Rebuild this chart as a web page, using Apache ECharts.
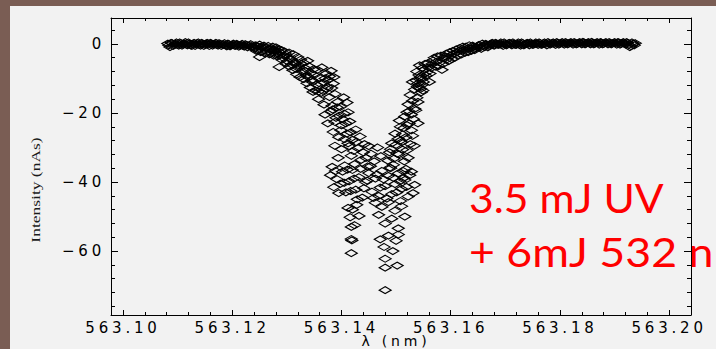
<!DOCTYPE html>
<html>
<head>
<meta charset="utf-8">
<script src="https://cdn.jsdelivr.net/npm/echarts@6/dist/echarts.min.js"></script>
<style>
  html, body { margin: 0; padding: 0; overflow: hidden; background: #f2f2f2; }
  #chart { width: 716px; height: 349px; }
  /* wide, airy lettering for the axis numbers */
  #chart text[style*="DejaVu"], #chart text[font-family*="DejaVu"] { letter-spacing: 3.8px; }
</style>
</head>
<body>
<div id="chart"></div>
<script>
// Wavelength (nm) / intensity (nAs) pairs of the absorption scan
const plateauLeft = [
  [563.1082, 0.1], [563.1086, -0.9], [563.1090, 0.2], [563.1094, -0.3], [563.1098, 0.4],
  [563.1102, -0.5], [563.1106, 0.2], [563.1110, -0.2], [563.1114, 0.5], [563.1118, -0.4],
  [563.1122, 0.1], [563.1126, -0.6], [563.1130, 0.3], [563.1134, -0.2], [563.1138, 0.4],
  [563.1142, -0.5], [563.1146, 0.0], [563.1150, -0.3], [563.1154, 0.3], [563.1158, -0.6],
  [563.1162, 0.1], [563.1166, -0.2], [563.1170, 0.3], [563.1174, -0.5], [563.1178, 0.0],
  [563.1182, -0.3], [563.1186, 0.2], [563.1190, -0.7], [563.1194, -0.1], [563.1198, -0.4],
  [563.1202, 0.1], [563.1206, -0.6], [563.1210, -0.2], [563.1214, -0.5], [563.1218, 0.0],
  [563.1222, -0.8], [563.1226, -0.3], [563.1230, -0.6], [563.1234, -0.1], [563.1238, -0.9],
  [563.1242, -0.4], [563.1246, -0.7], [563.1250, -0.2], [563.1254, -1.0], [563.1258, -0.5],
  [563.1262, -1.2], [563.1266, -0.6], [563.1270, -1.4], [563.1274, -0.8], [563.1278, -1.7],
  [563.1244, -2.0], [563.1252, -2.4], [563.1260, -2.8], [563.1268, -3.0], [563.1276, -3.4],
  [563.1250, -3.8], [563.1286, -6.7]
];

const plateauLeftB = [
  [563.1084, -0.4], [563.1088, 0.3], [563.1092, -0.6], [563.1096, 0.0], [563.1100, -0.3],
  [563.1104, 0.4], [563.1108, -0.5], [563.1112, 0.1], [563.1116, -0.2], [563.1120, 0.4],
  [563.1124, -0.4], [563.1128, 0.0], [563.1132, -0.6], [563.1136, 0.2], [563.1140, -0.3],
  [563.1144, 0.3], [563.1148, -0.6], [563.1152, 0.1], [563.1156, -0.2], [563.1160, 0.3],
  [563.1164, -0.5], [563.1168, 0.0], [563.1172, -0.3], [563.1176, 0.2], [563.1180, -0.6],
  [563.1184, -0.1], [563.1188, -0.4], [563.1192, 0.1], [563.1196, -0.7], [563.1200, -0.2],
  [563.1204, -0.5], [563.1208, 0.0], [563.1212, -0.8], [563.1216, -0.3], [563.1220, -0.6],
  [563.1224, -0.1], [563.1228, -1.0], [563.1232, -0.4], [563.1236, -0.7], [563.1240, -1.3],
  [563.1244, -0.5], [563.1248, -1.6], [563.1252, -0.9], [563.1256, -1.9], [563.1260, -1.1],
  [563.1264, -2.2], [563.1268, -1.5], [563.1272, -2.6], [563.1276, -1.8], [563.1280, -2.9]
];

const shoulderLeft = [
  [563.1280, -1.0], [563.1282, -2.6], [563.1285, -1.5], [563.1288, -3.2], [563.1290, -1.8],
  [563.1293, -4.0], [563.1296, -2.2], [563.1298, -3.0], [563.1301, -5.0], [563.1304, -2.5],
  [563.1306, -4.2], [563.1309, -6.0], [563.1312, -3.0], [563.1314, -5.3], [563.1317, -7.2],
  [563.1320, -3.8], [563.1322, -6.2], [563.1325, -4.6], [563.1328, -8.0], [563.1330, -5.4],
  [563.1333, -7.0], [563.1336, -9.2], [563.1338, -4.9], [563.1341, -6.5], [563.1344, -8.4],
  [563.1346, -10.5], [563.1349, -7.3], [563.1348, -13.9], [563.1356, -7.5], [563.1360, -9.8],
  [563.1364, -6.8], [563.1368, -11.2], [563.1372, -8.6], [563.1376, -10.4], [563.1381, -7.8],
  [563.1385, -11.5]
];

const shoulderLeftB = [
  [563.1283, -3.6], [563.1287, -2.4], [563.1291, -4.6], [563.1295, -3.4], [563.1299, -5.6],
  [563.1302, -3.9], [563.1305, -6.6], [563.1308, -4.5], [563.1311, -7.6], [563.1315, -5.8],
  [563.1318, -8.8], [563.1321, -6.9], [563.1324, -9.6], [563.1327, -5.8], [563.1331, -10.2],
  [563.1334, -7.9], [563.1337, -11.4], [563.1340, -9.6], [563.1343, -12.6], [563.1347, -11.0],
  [563.1350, -9.0], [563.1354, -11.8], [563.1358, -13.8], [563.1362, -11.6], [563.1366, -13.6],
  [563.1370, -10.0], [563.1374, -12.4], [563.1378, -9.4], [563.1382, -12.8], [563.1386, -9.6]
];

// descending wing, upper band (-13 … -18)
const bandUpper = [
  [563.1352, -13.5], [563.1358, -16.0], [563.1363, -14.2], [563.1368, -17.6], [563.1373, -13.0],
  [563.1378, -15.4], [563.1383, -17.9], [563.1388, -14.5], [563.1393, -16.8], [563.1398, -18.2],
  [563.1404, -15.5], [563.1410, -17.0],
  [563.1522, -17.5], [563.1526, -14.8], [563.1530, -16.5], [563.1534, -13.2], [563.1538, -15.6],
  [563.1542, -12.8], [563.1546, -14.0]
];

// both wings, -19 … -28
const bandMiddle = [
  [563.1370, -20.5], [563.1375, -23.0], [563.1380, -19.6], [563.1385, -25.5], [563.1390, -21.4],
  [563.1395, -27.0], [563.1400, -23.6], [563.1405, -20.2], [563.1410, -26.0], [563.1415, -22.5],
  [563.1420, -27.8], [563.1426, -24.8],
  [563.1504, -27.5], [563.1508, -24.0], [563.1512, -26.2], [563.1516, -21.0], [563.1520, -23.5],
  [563.1524, -19.5], [563.1528, -25.0], [563.1532, -21.8], [563.1536, -19.2], [563.1540, -23.0]
];

// -28 … -36
const bandLower = [
  [563.1388, -29.5], [563.1394, -33.0], [563.1400, -30.5], [563.1406, -35.2], [563.1412, -28.8],
  [563.1418, -32.4], [563.1424, -34.8], [563.1430, -30.2], [563.1436, -33.6], [563.1442, -29.0],
  [563.1448, -35.5], [563.1454, -31.8], [563.1460, -34.0], [563.1466, -30.0], [563.1472, -32.5],
  [563.1485, -33.8], [563.1490, -30.5], [563.1495, -35.0], [563.1500, -29.2], [563.1505, -32.0],
  [563.1510, -28.5], [563.1515, -34.0], [563.1520, -30.8], [563.1526, -29.0]
];

// extra readings along both wings
const wingsExtra = [
  [563.1384, -19.0], [563.1388, -22.6], [563.1392, -18.4], [563.1396, -20.8], [563.1399, -25.0],
  [563.1402, -21.8], [563.1406, -27.6], [563.1408, -23.0], [563.1412, -19.8], [563.1414, -29.6],
  [563.1417, -25.6], [563.1422, -31.0], [563.1427, -28.4], [563.1434, -26.8], [563.1440, -31.4],
  [563.1445, -33.0], [563.1450, -29.6],
  [563.1530, -11.0], [563.1534, -18.8], [563.1537, -10.6], [563.1540, -16.8], [563.1544, -9.6],
  [563.1548, -11.8], [563.1551, -8.8], [563.1528, -20.5], [563.1524, -23.0], [563.1520, -19.8],
  [563.1518, -27.0], [563.1514, -24.4], [563.1512, -30.6], [563.1508, -28.0], [563.1506, -22.2],
  [563.1502, -31.8], [563.1498, -26.0], [563.1496, -33.2], [563.1492, -28.8], [563.1490, -36.0],
  [563.1488, -31.4], [563.1518, -36.2], [563.1522, -33.0], [563.1514, -38.8], [563.1530, -26.6],
  [563.1533, -29.5]
];

// line core, -36 … -45
const bandCore = [
  [563.1380, -38.0], [563.1386, -41.5], [563.1392, -39.2], [563.1398, -40.5], [563.1402, -37.0],
  [563.1408, -43.0], [563.1414, -39.8], [563.1420, -36.5], [563.1426, -42.2], [563.1432, -38.6],
  [563.1438, -44.5], [563.1444, -40.0], [563.1450, -37.4], [563.1456, -42.8], [563.1462, -39.0],
  [563.1468, -44.0], [563.1474, -36.8], [563.1480, -41.2], [563.1486, -38.2], [563.1492, -43.5],
  [563.1498, -40.6], [563.1504, -37.5], [563.1510, -42.0], [563.1516, -39.4], [563.1522, -44.2],
  [563.1528, -37.0], [563.1534, -40.8],
  [563.1383, -35.6], [563.1389, -36.8], [563.1395, -43.2], [563.1405, -40.2], [563.1411, -36.4],
  [563.1417, -42.6], [563.1423, -39.0], [563.1429, -45.0], [563.1435, -36.2], [563.1441, -41.8],
  [563.1447, -39.6], [563.1453, -35.4], [563.1459, -44.6], [563.1465, -37.8], [563.1471, -41.6],
  [563.1477, -39.2], [563.1483, -44.8], [563.1489, -35.8], [563.1495, -38.8], [563.1501, -43.0],
  [563.1507, -39.8], [563.1513, -36.8], [563.1519, -41.4], [563.1525, -38.0], [563.1531, -43.2]
];

// deepest readings
const bandDeep = [
  [563.1412, -47.5], [563.1416, -50.2], [563.1420, -48.0], [563.1424, -52.5], [563.1428, -46.6],
  [563.1432, -49.8], [563.1418, -53.0],
  [563.1462, -46.0], [563.1468, -49.5], [563.1474, -47.2], [563.1480, -52.0], [563.1486, -45.8],
  [563.1492, -50.6], [563.1498, -48.3], [563.1504, -53.4], [563.1510, -47.0], [563.1516, -50.0],
  [563.1508, -45.5],
  [563.1418, -56.5], [563.1419, -56.9], [563.1418, -60.6], [563.1471, -56.6], [563.1478, -58.8],
  [563.1486, -55.5], [563.1494, -60.0], [563.1500, -57.0], [563.1504, -55.2],
  [563.1480, -62.2], [563.1480, -64.8], [563.1502, -64.2], [563.1480, -71.3]
];

const shoulderRight = [
  [563.1538, -8.0], [563.1540, -11.5], [563.1543, -6.2], [563.1546, -10.0], [563.1549, -13.5],
  [563.1552, -7.4], [563.1555, -9.2], [563.1558, -5.6], [563.1561, -11.0], [563.1564, -7.0],
  [563.1568, -4.8], [563.1572, -6.6], [563.1576, -3.6], [563.1580, -5.4], [563.1584, -7.5],
  [563.1588, -4.2], [563.1592, -2.8], [563.1596, -5.0], [563.1600, -3.4], [563.1604, -2.0],
  [563.1608, -4.0], [563.1612, -2.4], [563.1616, -1.2], [563.1620, -3.0], [563.1624, -1.8],
  [563.1628, -0.8], [563.1632, -2.4], [563.1636, -1.3], [563.1640, -0.5], [563.1644, -1.8],
  [563.1648, -0.9], [563.1652, -0.3], [563.1656, -1.4], [563.1660, -0.6], [563.1664, 0.0],
  [563.1668, -1.0]
];

const shoulderRightB = [
  [563.1539, -12.4], [563.1542, -9.0], [563.1545, -13.0], [563.1548, -7.0], [563.1550, -11.0],
  [563.1553, -5.8], [563.1556, -8.2], [563.1559, -6.8], [563.1562, -8.6], [563.1566, -5.8],
  [563.1570, -4.0], [563.1574, -5.2], [563.1578, -6.4], [563.1582, -3.4], [563.1586, -5.8],
  [563.1590, -3.6], [563.1594, -4.4], [563.1598, -2.4], [563.1602, -4.4], [563.1606, -2.8],
  [563.1610, -1.6], [563.1614, -3.2], [563.1618, -1.8], [563.1622, -0.8], [563.1626, -2.6],
  [563.1630, -1.4], [563.1634, -0.4], [563.1638, -2.0], [563.1642, -0.8], [563.1646, -1.3],
  [563.1650, -0.5], [563.1654, -1.0], [563.1658, 0.1], [563.1662, -0.9], [563.1666, -0.2],
  [563.1670, -0.6]
];

const plateauRight = [
  [563.1672, -0.2], [563.1676, 0.3], [563.1680, -0.5], [563.1684, 0.1], [563.1688, -0.3],
  [563.1692, 0.4], [563.1696, -0.6], [563.1700, 0.0], [563.1704, -0.2], [563.1708, 0.3],
  [563.1712, -0.4], [563.1716, 0.1], [563.1720, -0.3], [563.1724, 0.4], [563.1728, -0.5],
  [563.1732, 0.2], [563.1736, -0.1], [563.1740, 0.3], [563.1744, -0.4], [563.1748, 0.1],
  [563.1752, -0.2], [563.1756, 0.4], [563.1760, -0.3], [563.1764, 0.2], [563.1768, -0.1],
  [563.1772, 0.4], [563.1776, -0.4], [563.1780, 0.2], [563.1784, 0.0], [563.1788, 0.4],
  [563.1792, -0.3], [563.1796, 0.3], [563.1800, 0.0], [563.1804, 0.5], [563.1808, -0.2],
  [563.1812, 0.3], [563.1816, 0.1], [563.1820, 0.5], [563.1824, -0.2], [563.1828, 0.3],
  [563.1832, 0.0], [563.1836, 0.5], [563.1840, -0.1], [563.1844, 0.4], [563.1848, 0.1],
  [563.1852, 0.5], [563.1856, -0.1], [563.1860, 0.3], [563.1864, 0.1], [563.1868, 0.5],
  [563.1872, -0.2], [563.1876, 0.4], [563.1880, 0.0], [563.1884, 0.5], [563.1888, -0.1],
  [563.1892, 0.3], [563.1896, 0.1], [563.1900, 0.5], [563.1904, -0.2], [563.1908, 0.4],
  [563.1912, 0.0], [563.1916, 0.5], [563.1920, -0.1], [563.1924, 0.3], [563.1928, -0.9],
  [563.1932, 0.4], [563.1936, -0.4], [563.1938, 0.2]
];

const plateauRightB = [
  [563.1674, 0.1], [563.1678, -0.4], [563.1682, 0.3], [563.1686, -0.2], [563.1690, 0.0],
  [563.1694, -0.3], [563.1698, 0.4], [563.1702, -0.4], [563.1706, 0.2], [563.1710, -0.1],
  [563.1714, 0.4], [563.1718, -0.3], [563.1722, 0.0], [563.1726, -0.2], [563.1730, 0.4],
  [563.1734, -0.4], [563.1738, 0.1], [563.1742, 0.0], [563.1746, 0.4], [563.1750, -0.3],
  [563.1754, 0.1], [563.1758, 0.0], [563.1762, 0.4], [563.1766, -0.3], [563.1770, 0.2],
  [563.1774, 0.0], [563.1778, 0.5], [563.1782, -0.2], [563.1786, 0.3], [563.1790, 0.1],
  [563.1794, 0.5], [563.1798, -0.2], [563.1802, 0.3], [563.1806, 0.1], [563.1810, 0.5],
  [563.1814, -0.1], [563.1818, 0.3], [563.1822, 0.2], [563.1826, 0.5], [563.1830, -0.1],
  [563.1834, 0.3], [563.1838, 0.2], [563.1842, 0.6], [563.1846, -0.1], [563.1850, 0.3],
  [563.1854, 0.2], [563.1858, 0.6], [563.1862, -0.1], [563.1866, 0.3], [563.1870, 0.2],
  [563.1874, 0.5], [563.1878, -0.1], [563.1882, 0.3], [563.1886, 0.2], [563.1890, 0.5],
  [563.1894, -0.1], [563.1898, 0.3], [563.1902, 0.2], [563.1906, 0.5], [563.1910, -0.2],
  [563.1914, 0.3], [563.1918, 0.2], [563.1922, 0.5], [563.1926, -0.3], [563.1930, -0.6],
  [563.1934, 0.1]
];

// axis ticks and their labels
const xMajor = [563.10, 563.12, 563.14, 563.16, 563.18, 563.20];
const xTickLabels = ['563.10', '563.12', '563.14', '563.16', '563.18', '563.20'];
const xMinor = [563.104, 563.108, 563.112, 563.116, 563.124, 563.128, 563.132, 563.136,
                563.144, 563.148, 563.152, 563.156, 563.164, 563.168, 563.172, 563.176,
                563.184, 563.188, 563.192, 563.196];
const yMajor = [0, -20, -40, -60];
const yTickLabels = ['0', '\u221220', '\u221240', '\u221260'];
const yMinor = [4, -4, -8, -12, -16, -24, -28, -32, -36, -44, -48, -52, -56, -64, -68, -72, -76];

const X_MIN = 563.0978, X_MAX = 563.2040;
const Y_MIN = -78.5, Y_MAX = 7.5;

const points = [].concat(plateauLeft, plateauLeftB, shoulderLeft, shoulderLeftB, bandUpper,
                         bandMiddle, bandLower, wingsExtra, bandCore, bandDeep,
                         shoulderRight, shoulderRightB, plateauRight, plateauRightB);

function labelFor(ticks, labels) {
  return function (v) {
    for (let i = 0; i < ticks.length; i++) {
      if (Math.abs(ticks[i] - v) < 1e-6) return labels[i];
    }
    return '';
  };
}

const black = '#000';
const tickFont = { color: black, fontFamily: 'DejaVu Sans', fontSize: 15 };

function xAxisDef(position, values, len, withLabels, showLine) {
  return {
    type: 'value', position: position, min: X_MIN, max: X_MAX,
    axisLine: { show: showLine, onZero: false, lineStyle: { color: black, width: 1 } },
    axisTick: { show: true, inside: true, length: len, customValues: values,
                lineStyle: { color: black, width: 1 } },
    axisLabel: withLabels
      ? Object.assign({ show: true, margin: 5, customValues: xMajor,
                        formatter: labelFor(xMajor, xTickLabels) }, tickFont)
      : { show: false },
    splitLine: { show: false }
  };
}

function yAxisDef(position, values, len, withLabels, showLine) {
  return {
    type: 'value', position: position, min: Y_MIN, max: Y_MAX,
    axisLine: { show: showLine, onZero: false, lineStyle: { color: black, width: 1 } },
    axisTick: { show: true, inside: true, length: len, customValues: values,
                lineStyle: { color: black, width: 1 } },
    axisLabel: withLabels
      ? Object.assign({ show: true, margin: 6, customValues: yMajor,
                        formatter: labelFor(yMajor, yTickLabels) }, tickFont)
      : { show: false },
    splitLine: { show: false }
  };
}

const chart = echarts.init(document.getElementById('chart'), null, { renderer: 'svg' });

chart.setOption({
  backgroundColor: '#f2f2f2',
  animation: false,
  grid: { left: 111, top: 18, right: 25, bottom: 34, containLabel: false },
  xAxis: [
    xAxisDef('bottom', xMajor, 5, true, true),
    xAxisDef('bottom', xMinor, 3, false, false),
    xAxisDef('top', xMajor, 5, false, true),
    xAxisDef('top', xMinor, 3, false, false)
  ],
  yAxis: [
    yAxisDef('left', yMajor, 7, true, true),
    yAxisDef('left', yMinor, 4, false, false),
    yAxisDef('right', yMajor, 7, false, true),
    yAxisDef('right', yMinor, 4, false, false)
  ],
  series: [{
    type: 'scatter',
    xAxisIndex: 0,
    yAxisIndex: 0,
    data: points,
    symbol: 'diamond',
    symbolSize: [12, 7],
    silent: true,
    itemStyle: { color: 'rgba(0,0,0,0)', borderColor: '#000', borderWidth: 1.2, opacity: 1 }
  }],
  graphic: [
    { type: 'rect', left: 0, top: 0, shape: { width: 10, height: 349 }, style: { fill: '#7a5d54' }, z: 100 },
    { type: 'rect', left: 0, top: 0, shape: { width: 716, height: 6 }, style: { fill: '#7a5d54' }, z: 100 },
    {
      type: 'text', x: 35, y: 190, rotation: Math.PI / 2, scaleX: 1.4,
      style: { text: 'Intensity (nAs)', font: '12.5px "Liberation Serif"', fill: '#1a1a1a',
               align: 'center', verticalAlign: 'middle' }
    },
    {
      type: 'text', x: 396, y: 341,
      style: { text: '\u03bb (nm)', font: '14px "DejaVu Sans"', fill: black,
               align: 'center', verticalAlign: 'middle' }
    },
    {
      type: 'text', x: 469, y: 197, scaleX: 1.04,
      style: { text: '3.5 mJ UV', font: '41px Lato', fill: '#ff0000',
               align: 'left', verticalAlign: 'middle' }
    },
    {
      type: 'text', x: 469, y: 251, scaleX: 1.09,
      style: { text: '+ 6mJ 532 n', font: '41px Lato', fill: '#ff0000',
               align: 'left', verticalAlign: 'middle' }
    }
  ]
});
</script>
</body>
</html>
